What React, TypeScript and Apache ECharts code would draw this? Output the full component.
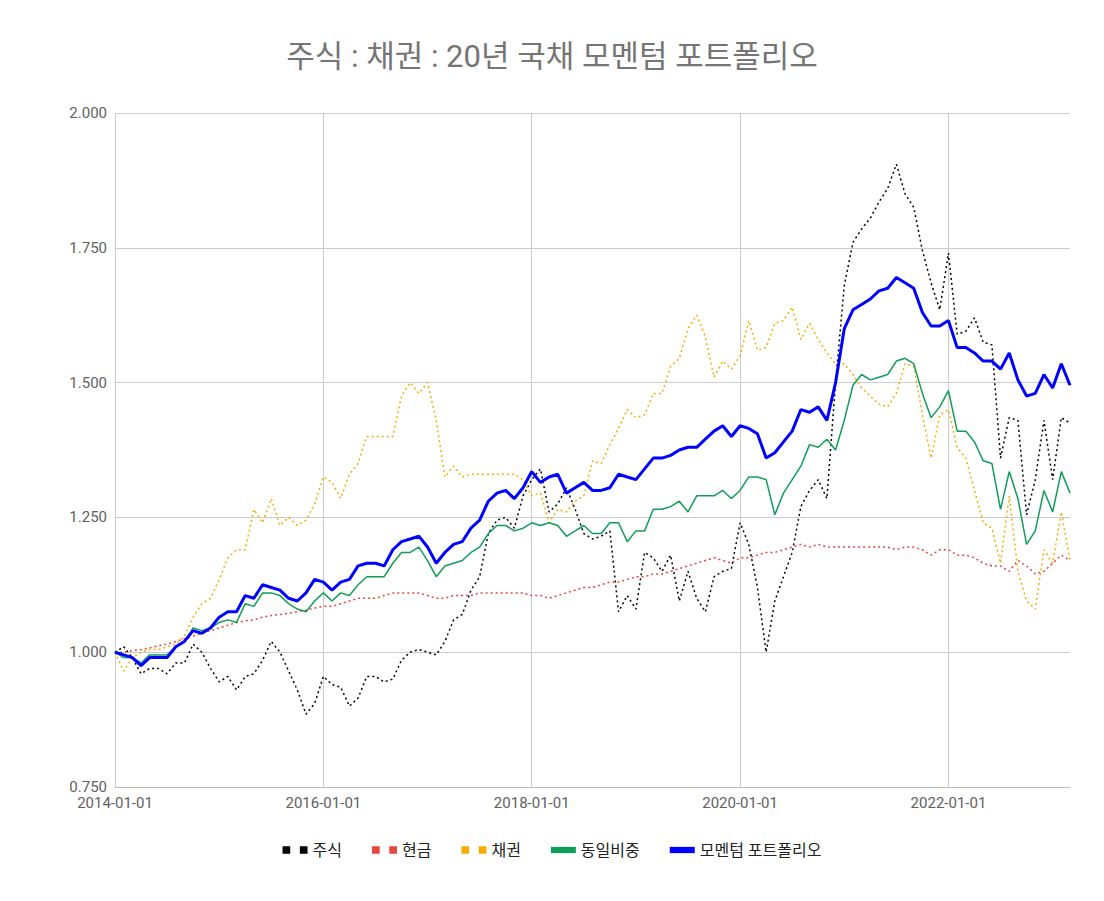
import { useEffect, useRef } from 'react'
import * as echarts from 'echarts'

// monthly, 2014-01 .. 2023-03
const months: string[] = []
for (let y = 2014; y <= 2023; y++) {
  for (let m = 1; m <= 12; m++) {
    if (y === 2023 && m > 3) break
    months.push(`${y}-${String(m).padStart(2, '0')}-01`)
  }
}

const stocks = [
  1.00, 1.01, 0.99, 0.96, 0.97, 0.97, 0.96, 0.98, 0.98, 1.015, 1.00, 0.97,
  0.945, 0.955, 0.93, 0.955, 0.96, 0.985, 1.02, 1.00, 0.965, 0.93, 0.885, 0.905,
  0.955, 0.94, 0.935, 0.90, 0.915, 0.955, 0.955, 0.945, 0.95, 0.985, 1.00, 1.005,
  1.00, 0.995, 1.02, 1.06, 1.07, 1.115, 1.14, 1.22, 1.245, 1.25, 1.23, 1.29,
  1.32, 1.34, 1.26, 1.275, 1.305, 1.265, 1.22, 1.21, 1.215, 1.225, 1.075, 1.105,
  1.08, 1.185, 1.175, 1.15, 1.18, 1.095, 1.15, 1.10, 1.075, 1.14, 1.15, 1.155,
  1.24, 1.20, 1.12, 1.00, 1.095, 1.14, 1.185, 1.27, 1.30, 1.32, 1.285, 1.50,
  1.68, 1.76, 1.785, 1.805, 1.835, 1.86, 1.905, 1.85, 1.825, 1.745, 1.685, 1.635,
  1.74, 1.59, 1.595, 1.62, 1.575, 1.57, 1.36, 1.435, 1.43, 1.255, 1.32, 1.43,
  1.32, 1.435, 1.425
]

const cash = [
  1.00, 1.00, 1.003, 1.005, 1.008, 1.012, 1.015, 1.02, 1.025, 1.03, 1.035, 1.04,
  1.045, 1.05, 1.055, 1.058, 1.06, 1.065, 1.068, 1.07, 1.072, 1.075, 1.078, 1.082,
  1.085, 1.085, 1.09, 1.095, 1.10, 1.10, 1.10, 1.105, 1.11, 1.11, 1.11, 1.11,
  1.105, 1.10, 1.10, 1.105, 1.105, 1.105, 1.11, 1.11, 1.11, 1.11, 1.11, 1.11,
  1.105, 1.105, 1.10, 1.105, 1.11, 1.115, 1.12, 1.12, 1.125, 1.13, 1.13, 1.135,
  1.14, 1.14, 1.145, 1.145, 1.15, 1.155, 1.16, 1.165, 1.17, 1.175, 1.17, 1.165,
  1.175, 1.175, 1.18, 1.185, 1.185, 1.19, 1.195, 1.20, 1.195, 1.20, 1.195, 1.195,
  1.195, 1.195, 1.195, 1.195, 1.195, 1.195, 1.19, 1.195, 1.195, 1.19, 1.18, 1.19,
  1.19, 1.18, 1.18, 1.175, 1.165, 1.16, 1.16, 1.15, 1.17, 1.16, 1.145, 1.15,
  1.165, 1.18, 1.17
]

const bonds = [
  1.00, 0.965, 0.99, 1.00, 1.005, 1.005, 1.01, 1.015, 1.03, 1.065, 1.09, 1.10,
  1.135, 1.175, 1.19, 1.19, 1.265, 1.24, 1.285, 1.235, 1.25, 1.235, 1.245, 1.275,
  1.325, 1.315, 1.285, 1.33, 1.35, 1.40, 1.40, 1.40, 1.40, 1.475, 1.50, 1.48,
  1.50, 1.43, 1.325, 1.345, 1.325, 1.33, 1.33, 1.33, 1.33, 1.33, 1.33, 1.32,
  1.29, 1.295, 1.24, 1.265, 1.26, 1.28, 1.29, 1.355, 1.35, 1.385, 1.415, 1.45,
  1.435, 1.44, 1.48, 1.48, 1.53, 1.545, 1.60, 1.625, 1.585, 1.51, 1.54, 1.525,
  1.55, 1.615, 1.56, 1.565, 1.61, 1.615, 1.64, 1.58, 1.61, 1.58, 1.555, 1.535,
  1.535, 1.515, 1.49, 1.475, 1.46, 1.455, 1.48, 1.535, 1.53, 1.44, 1.36, 1.44,
  1.45, 1.38, 1.36, 1.30, 1.24, 1.23, 1.165, 1.29, 1.15, 1.095, 1.08, 1.19,
  1.165, 1.26, 1.17
]

const equalWeight = [
  1.00, 0.99, 0.99, 0.98, 0.995, 0.995, 0.995, 1.01, 1.02, 1.045, 1.04, 1.045,
  1.055, 1.06, 1.055, 1.09, 1.085, 1.11, 1.11, 1.105, 1.09, 1.08, 1.075, 1.095,
  1.11, 1.095, 1.11, 1.105, 1.125, 1.14, 1.14, 1.14, 1.165, 1.185, 1.185, 1.195,
  1.17, 1.14, 1.16, 1.165, 1.17, 1.185, 1.195, 1.22, 1.235, 1.235, 1.225, 1.23,
  1.24, 1.235, 1.24, 1.235, 1.215, 1.225, 1.235, 1.22, 1.22, 1.24, 1.24, 1.205,
  1.225, 1.225, 1.265, 1.265, 1.27, 1.28, 1.26, 1.29, 1.29, 1.29, 1.30, 1.285,
  1.30, 1.325, 1.325, 1.32, 1.255, 1.295, 1.32, 1.345, 1.385, 1.38, 1.395, 1.375,
  1.43, 1.495, 1.515, 1.505, 1.51, 1.515, 1.54, 1.545, 1.535, 1.48, 1.435, 1.455,
  1.485, 1.41, 1.41, 1.39, 1.355, 1.35, 1.265, 1.335, 1.285, 1.20, 1.225, 1.30,
  1.26, 1.335, 1.295
]

const momentum = [
  1.00, 0.995, 0.99, 0.975, 0.99, 0.99, 0.99, 1.01, 1.02, 1.04, 1.035, 1.045,
  1.065, 1.075, 1.075, 1.105, 1.10, 1.125, 1.12, 1.115, 1.10, 1.095, 1.11, 1.135,
  1.13, 1.115, 1.13, 1.135, 1.16, 1.165, 1.165, 1.16, 1.19, 1.205, 1.21, 1.215,
  1.195, 1.165, 1.185, 1.20, 1.205, 1.23, 1.245, 1.28, 1.295, 1.30, 1.285, 1.305,
  1.335, 1.315, 1.325, 1.33, 1.295, 1.305, 1.315, 1.30, 1.30, 1.305, 1.33, 1.325,
  1.32, 1.34, 1.36, 1.36, 1.365, 1.375, 1.38, 1.38, 1.395, 1.41, 1.42, 1.40,
  1.42, 1.415, 1.405, 1.36, 1.37, 1.39, 1.41, 1.45, 1.445, 1.455, 1.43, 1.50,
  1.60, 1.635, 1.645, 1.655, 1.67, 1.675, 1.695, 1.685, 1.675, 1.63, 1.605, 1.605,
  1.615, 1.565, 1.565, 1.555, 1.54, 1.54, 1.525, 1.555, 1.505, 1.475, 1.48, 1.515,
  1.49, 1.535, 1.495
]

const FONT = 'Roboto, "Noto Sans CJK KR", sans-serif'
const DOTS_ICON = 'path://M0,0h4v4h-4z M9,0h4v4h-4z'
const LINE_ICON = 'path://M0,0h20v5h-20z'

export default function App() {
  const ref = useRef<HTMLDivElement>(null)

  useEffect(() => {
    document.body.style.margin = '0'
    if (!ref.current) return
    const chart = echarts.init(ref.current, null, { renderer: 'svg' })
    const dotted = (name: string, data: number[], color: string) => ({
      name,
      type: 'line' as const,
      data,
      symbol: 'none',
      lineStyle: { color, width: 1.5, type: [2, 3] as any },
      itemStyle: { color }
    })
    chart.setOption({
      animation: false,
      backgroundColor: '#fff',
      textStyle: { fontFamily: FONT },
      title: {
        text: '주식 : 채권 : 20년 국채 모멘텀 포트폴리오',
        left: 'center',
        top: 36,
        textStyle: { fontSize: 31, fontWeight: 'normal', color: '#757575', fontFamily: FONT }
      },
      legend: {
        bottom: 38,
        left: 'center',
        itemGap: 30,
        textStyle: { fontSize: 16, color: '#222', fontFamily: FONT },
        data: [
          { name: '주식', icon: DOTS_ICON, itemWidth: 16, itemHeight: 5 },
          { name: '현금', icon: DOTS_ICON, itemWidth: 16, itemHeight: 5 },
          { name: '채권', icon: DOTS_ICON, itemWidth: 16, itemHeight: 5 },
          { name: '동일비중', icon: LINE_ICON, itemWidth: 18, itemHeight: 4 },
          { name: '모멘텀 포트폴리오', icon: LINE_ICON, itemWidth: 18, itemHeight: 6 }
        ]
      },
      grid: { left: 115, right: 34, top: 113, bottom: 114 },
      xAxis: {
        type: 'category',
        data: months,
        boundaryGap: false,
        axisLine: { lineStyle: { color: '#bdbdbd' } },
        axisTick: { show: false },
        axisLabel: {
          color: '#616161',
          fontSize: 15,
          interval: (i: number) => i % 24 === 0,
          margin: 8
        },
        splitLine: {
          show: true,
          interval: (i: number) => i % 24 === 0,
          lineStyle: { color: '#cccccc' }
        }
      },
      yAxis: {
        type: 'value',
        min: 0.75,
        max: 2,
        interval: 0.25,
        axisLabel: { color: '#616161', fontSize: 15, formatter: (v: number) => v.toFixed(3) },
        splitLine: { lineStyle: { color: '#cccccc' } }
      },
      series: [
        dotted('주식', stocks, '#000000'),
        dotted('현금', cash, '#e8453c'),
        dotted('채권', bonds, '#f9ab00'),
        {
          name: '동일비중',
          type: 'line',
          data: equalWeight,
          symbol: 'none',
          lineStyle: { color: '#0f9d58', width: 1.5 },
          itemStyle: { color: '#0f9d58' }
        },
        {
          name: '모멘텀 포트폴리오',
          type: 'line',
          data: momentum,
          symbol: 'none',
          lineStyle: { color: '#0000ff', width: 3 },
          itemStyle: { color: '#0000ff' }
        }
      ]
    })
    return () => chart.dispose()
  }, [])

  return <div ref={ref} style={{ width: 1104, height: 901 }} />
}
